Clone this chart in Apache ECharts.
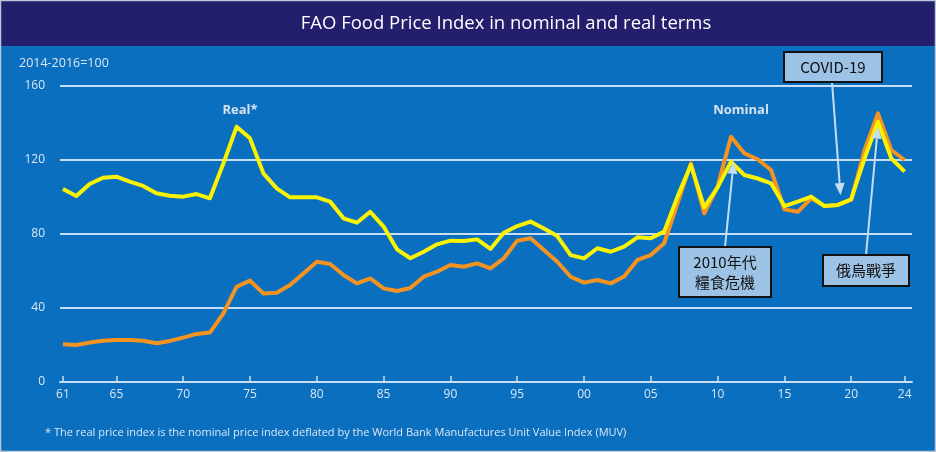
<!DOCTYPE html>
<html>
<head>
<meta charset="utf-8">
<script src="https://cdn.jsdelivr.net/npm/echarts@6/dist/echarts.min.js"></script>
<style>
html,body{margin:0;padding:0;background:#ffffff;}
#c{width:936px;height:452px;}
</style>
</head>
<body>
<div id="c"></div>
<script>
// ---- data ----
const years = [];
for (let y = 1961; y <= 2024; y++) years.push(y);
const realIndex = [
  104.3,100.5,107,110.4,111,108.3,106,102,100.7,100.2,
  101.6,99.3,118,138,131.7,112.8,104.7,99.8,99.8,99.8,
  97.5,88.5,86.1,92,84,71.7,66.9,70.4,74.4,76.4,
  76.2,77.1,71.9,80.7,84.3,86.7,83,78.9,68.6,66.8,
  72.3,70.4,73.2,78.2,77.7,81.3,100.2,117.3,94.4,105.2,
  119,111.9,110,107.4,95.1,97.5,100.2,95.1,95.7,98.8,
  120.9,140.7,120.9,113.7
];
const nominalIndex = [
  20.4,20,21.3,22.3,22.7,22.7,22.3,20.9,22.2,24,
  26,26.7,37,51.5,54.8,47.9,48.3,52.4,58.7,65,
  63.8,57.8,53.3,56,50.6,49.2,50.8,56.9,59.6,63.2,
  62.3,64.1,61.4,66.9,76.4,77.7,71.4,65,56.9,53.7,
  55.1,53.3,57,66,68.6,75,96.6,118.2,91.2,105.6,
  132.6,123.6,120.4,114.6,93.3,92,99.3,95.1,95.7,98.4,
  125.4,145.2,125.4,120
];
const xTickYears = [1961,1965,1970,1975,1980,1985,1990,1995,2000,2005,2010,2015,2020,2024];
const yTicks = [0,40,80,120,160];
const titleText = 'FAO Food Price Index in nominal and real terms';
const unitText = '2014-2016=100';
const footnoteText = '* The real price index is the nominal price index deflated by the World Bank Manufactures Unit Value Index (MUV)';
const seriesLabels = ['Real*', 'Nominal'];
const annotationTexts = ['COVID-19', '2010年代\n糧食危機', '俄烏戰爭'];
const annotationYears = [2019.2, 2011.2, 2022];
const annotationValues = [101, 119, 138];

// ---- chart ----
const chart = echarts.init(document.getElementById('c'), null, {renderer: 'canvas'});
const BG = '#0a6fbf', NAVY = '#231f6c', GRID = '#c9def2', LABEL = '#dce7f3';
const realData = years.map((y, i) => [y, realIndex[i]]);
const nomData = years.map((y, i) => [y, nominalIndex[i]]);

const option = {
  backgroundColor: BG,
  animation: false,
  grid: {left: 60, right: 24, top: 86, bottom: 70},
  xAxis: {
    type: 'value', min: 1960.78, max: 2024.55,
    splitLine: {show: false},
    axisLine: {show: true, lineStyle: {color: GRID, width: 2}},
    axisTick: {show: true, inside: true, length: 6, customValues: xTickYears, lineStyle: {color: GRID, width: 1.5}},
    axisLabel: {
      customValues: xTickYears, color: LABEL, fontFamily: 'Open Sans', fontSize: 12, margin: 7,
      formatter: v => String(v % 100).padStart(2, '0')
    }
  },
  yAxis: {
    type: 'value', min: yTicks[0], max: yTicks[yTicks.length - 1], interval: 40,
    axisLine: {show: false}, axisTick: {show: false},
    splitLine: {show: true, lineStyle: {color: GRID, width: 2}},
    axisLabel: {color: LABEL, fontFamily: 'Open Sans', fontSize: 12, margin: 15}
  },
  series: [
    {name: 'Nominal', type: 'line', data: nomData, showSymbol: false, z: 3,
     lineStyle: {color: '#f59320', width: 4, join: 'round'}},
    {name: 'Real', type: 'line', data: realData, showSymbol: false, z: 4,
     lineStyle: {color: '#f9f200', width: 4, join: 'round'}}
  ]
};
chart.setOption(option);

// annotations / decorations
const tips = annotationYears.map((y, i) => chart.convertToPixel({gridIndex: 0}, [y, annotationValues[i]]));
const boxes = [
  {x: 784, y: 52, w: 98, h: 30, sx: 832, sy: 82},
  {x: 679, y: 247, w: 92, h: 50, sx: 725, sy: 247},
  {x: 823, y: 255, w: 86, h: 31, sx: 866, sy: 255}
];
const ARROW = '#c6ddf1';
const g = [];
g.push({type: 'rect', shape: {x: 0, y: 0, width: 936, height: 46}, style: {fill: NAVY}, z: 10});
g.push({type: 'rect', shape: {x: 0.5, y: 0.5, width: 935, height: 451}, style: {fill: null, stroke: '#b9c6d6', lineWidth: 1.5}, z: 11});
g.push({type: 'text', x: 506, y: 24, style: {text: titleText, fill: '#ffffff', font: '18.5px "Open Sans"', align: 'center', verticalAlign: 'middle'}, z: 12});
g.push({type: 'text', x: 19, y: 63, style: {text: unitText, fill: LABEL, font: '12.5px "Open Sans"', align: 'left', verticalAlign: 'middle'}, z: 12});
g.push({type: 'text', x: 45, y: 433, style: {text: footnoteText, fill: LABEL, font: '11px "Open Sans"', align: 'left', verticalAlign: 'middle'}, z: 12});
g.push({type: 'text', x: 240, y: 110, style: {text: seriesLabels[0], fill: '#d6e1ee', font: 'bold 13px "Open Sans"', align: 'center', verticalAlign: 'middle'}, z: 12});
g.push({type: 'text', x: 741, y: 110, style: {text: seriesLabels[1], fill: '#d6e1ee', font: 'bold 13px "Open Sans"', align: 'center', verticalAlign: 'middle'}, z: 12});

boxes.forEach((b, i) => {
  const [tx, ty] = tips[i];
  const dx = tx - b.sx, dy = ty - b.sy, len = Math.hypot(dx, dy);
  const ux = dx / len, uy = dy / len, L = 12, W = 5;
  const bx = tx - ux * L, by = ty - uy * L;
  g.push({type: 'line', shape: {x1: b.sx, y1: b.sy, x2: bx, y2: by}, style: {stroke: ARROW, lineWidth: 2}, z: 20});
  g.push({type: 'polygon', shape: {points: [[tx, ty], [bx - uy * W, by + ux * W], [bx + uy * W, by - ux * W]]}, style: {fill: ARROW}, z: 20});
  g.push({type: 'rect', shape: {x: b.x, y: b.y, width: b.w, height: b.h}, style: {fill: '#9cc3e5', stroke: '#111111', lineWidth: 2}, z: 21});
  g.push({type: 'text', x: b.x + b.w / 2, y: b.y + b.h / 2, style: {text: annotationTexts[i], fill: '#111111', font: '15px "Noto Sans CJK TC"', align: 'center', verticalAlign: 'middle', lineHeight: 20}, z: 22});
});
chart.setOption({graphic: g});
</script>
</body>
</html>
